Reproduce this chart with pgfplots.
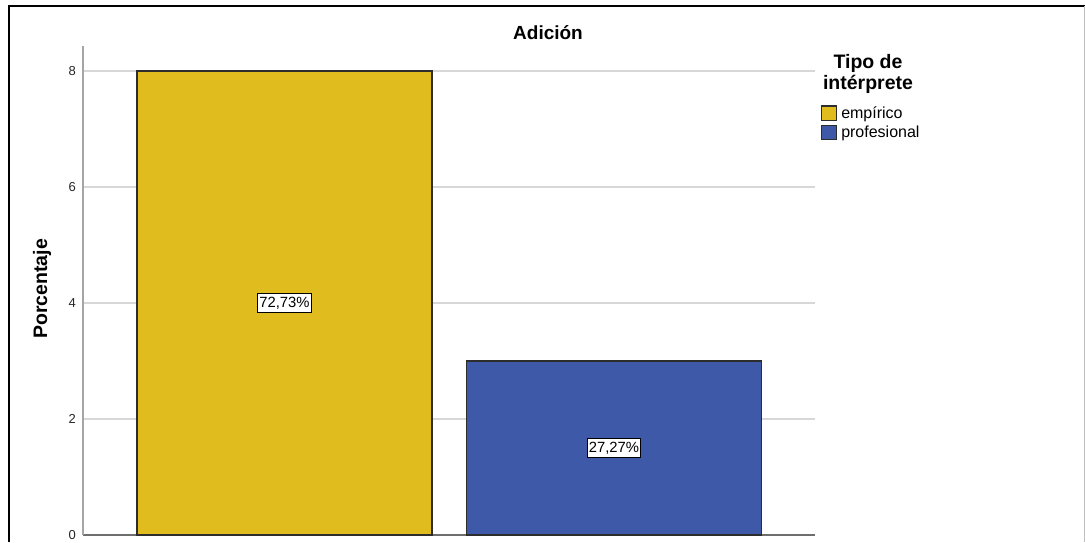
\documentclass[border=0pt]{standalone}
\usepackage{fontspec}
\setmainfont{Liberation Sans}
\usepackage{pgfplots}
\pgfplotsset{compat=1.18}

\definecolor{barYellow}{RGB}{225,188,30}
\definecolor{barBlue}{RGB}{62,89,168}
\definecolor{barEdge}{RGB}{45,45,45}
\definecolor{gridGray}{RGB}{215,215,215}
\definecolor{yAxisGray}{RGB}{165,165,165}
\definecolor{xAxisGray}{RGB}{110,110,110}

% square swatch for the legend
\pgfplotsset{square legend/.style={legend image code/.code={\draw[##1] (0pt,-7pt) rectangle (15pt,7.5pt);}}}

\begin{document}
\begin{tikzpicture}[x=1pt,y=1pt]
\useasboundingbox (0,0) rectangle (1085,542);

% outer frame
\draw[black, line width=2pt] (9,0) -- (9,536) -- (1085,536);
\draw[black!25, line width=1pt] (1084,0) -- (1084,536);

\begin{axis}[
  at={(83pt,7pt)}, anchor=south west,
  scale only axis, width=732pt, height=489pt,
  xmin=-0.6115, xmax=1.610, ymin=0, ymax=8.43,
  axis x line*=bottom, axis y line*=left,
  x axis line style={xAxisGray, line width=1.5pt},
  y axis line style={yAxisGray, line width=1.5pt},
  xtick=\empty,
  ytick={0,2,4,6,8},
  ymajorgrids,
  major grid style={gridGray, line width=1.5pt},
  major tick length=0pt,
  /pgf/number format/assume math mode=true,
  yticklabel style={font=\fontsize{13}{14}\selectfont, text=black!85, inner xsep=0pt, xshift=-7pt},
  legend style={at={(axis description cs:1.008,0.879)}, anchor=north west,
    draw=none, fill=none, inner sep=0pt, row sep=3.5pt,
    font=\fontsize{16}{17}\selectfont,
    nodes={inner xsep=4pt, inner ysep=1pt}},
  legend cell align=left,
]

\addplot[ybar, bar width=0.895, bar shift=0pt, fill=barYellow, draw=barEdge, line width=1.2pt,
  square legend]
  coordinates {(0,8)};
\addlegendentry{empírico}

\addplot[ybar, bar width=0.895, bar shift=0pt, fill=barBlue, draw=barEdge, line width=1.2pt,
  square legend]
  coordinates {(1,3)};
\addlegendentry{profesional}

% percentage labels at mid-height of each bar
\addplot[draw=none, mark=none, forget plot,
  nodes near coords, point meta=explicit symbolic,
  every node near coord/.style={anchor=center, fill=white, draw=black, line width=0.9pt,
    inner xsep=1.5pt, inner ysep=3pt, font=\fontsize{14.8}{15}\selectfont, text=black}]
  coordinates {(0,4) [72,73\%] (1,1.5) [27,27\%]};

\end{axis}

\node[font=\bfseries\fontsize{19}{21}\selectfont] at (548,509) {Adición};
\node[font=\bfseries\fontsize{19.5}{21}\selectfont, rotate=90] at (42,253) {Porcentaje};
\node[font=\bfseries\fontsize{19.5}{21}\selectfont, align=center, inner sep=0pt] at (868,468) {Tipo de\\intérprete};
\end{tikzpicture}
\end{document}
